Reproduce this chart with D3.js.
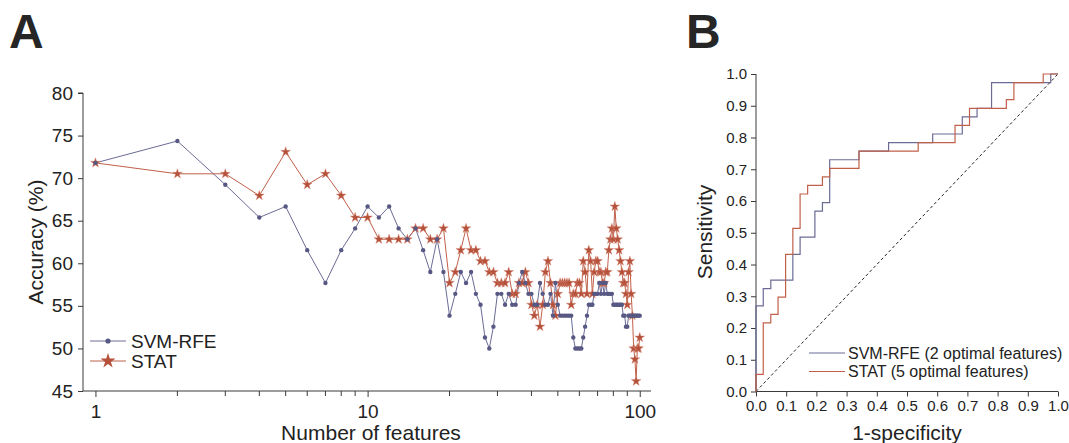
<!DOCTYPE html>
<html>
<head>
<meta charset="utf-8">
<script src="https://cdn.jsdelivr.net/npm/d3@7/dist/d3.min.js"></script>
<style>
  html, body { margin: 0; padding: 0; background: #fff; }
  svg { display: block; font-family: "Liberation Sans", Arial, sans-serif; }
</style>
</head>
<body>
<svg id="chart" width="1069" height="443"></svg>
<script>
// ---- Panel A: accuracy vs. number of features (1..100) ----
const featureCounts = d3.range(1, 101);

const svmAccuracy = [
  71.79, 74.36, 69.23, 65.38, 66.67, 61.54, 57.69, 61.54, 64.10, 66.67,
  65.38, 66.67, 64.10, 62.82, 64.10, 61.54, 58.97, 62.82, 58.97, 53.85,
  56.41, 58.97, 57.69, 58.97, 56.41, 55.13, 51.28, 50.00, 52.56, 56.41,
  56.41, 55.13, 56.41, 55.13, 55.13, 57.69, 58.97, 57.69, 56.41, 56.41,
  55.13, 55.13, 57.69, 56.41, 55.13, 55.13, 56.41, 53.85, 57.69, 55.13,
  53.85, 53.85, 53.85, 53.85, 53.85, 53.85, 51.28, 50.00, 50.00, 50.00,
  50.00, 51.28, 52.56, 53.85, 55.13, 55.13, 55.13, 56.41, 56.41, 56.41,
  57.69, 56.41, 57.69, 56.41, 57.69, 56.41, 56.41, 56.41, 56.41, 55.13,
  55.13, 55.13, 55.13, 55.13, 55.13, 55.13, 53.85, 53.85, 52.56, 52.56,
  53.85, 53.85, 53.85, 53.85, 53.85, 53.85, 53.85, 53.85, 53.85, 53.85
];

const statAccuracy = [
  71.79, 70.51, 70.51, 67.95, 73.08, 69.23, 70.51, 67.95, 65.38, 65.38,
  62.82, 62.82, 62.82, 62.82, 64.10, 64.10, 62.82, 62.82, 64.10, 57.69,
  58.97, 61.54, 64.10, 61.54, 61.54, 60.26, 60.26, 58.97, 58.97, 57.69,
  57.69, 57.69, 58.97, 56.41, 56.41, 57.69, 57.69, 58.97, 57.69, 55.13,
  53.85, 55.13, 52.56, 55.13, 58.97, 60.26, 57.69, 55.13, 53.85, 56.41,
  57.69, 57.69, 57.69, 57.69, 57.69, 55.13, 56.41, 56.41, 57.69, 57.69,
  56.41, 60.26, 58.97, 56.41, 61.54, 60.26, 56.41, 58.97, 60.26, 60.26,
  58.97, 58.97, 57.69, 57.69, 58.97, 58.97, 61.54, 62.82, 64.10, 62.82,
  66.67, 64.10, 62.82, 61.54, 60.26, 58.97, 57.69, 57.69, 56.41, 55.13,
  58.97, 60.26, 56.41, 53.85, 50.00, 48.72, 46.15, 50.00, 50.00, 51.28
];

const accuracyTicks = [45, 50, 55, 60, 65, 70, 75, 80];
const featureTicks = [1, 10, 100];

// ---- Panel B: ROC curves (false positive rate, true positive rate) ----
const svmFpr = [0, 0, 0.024, 0.049, 0.122, 0.146, 0.195, 0.220, 0.244, 0.341, 0.439, 0.585, 0.683, 0.732, 0.780, 0.976, 1];
const svmTpr = [0, 0.270, 0.324, 0.351, 0.432, 0.486, 0.568, 0.595, 0.730, 0.757, 0.784, 0.811, 0.865, 0.892, 0.973, 1, 1];
const statFpr = [0, 0, 0.024, 0.049, 0.073, 0.098, 0.122, 0.146, 0.171, 0.220, 0.244, 0.341, 0.537, 0.659, 0.707, 0.829, 0.854, 0.951, 1];
const statTpr = [0, 0.054, 0.216, 0.243, 0.297, 0.432, 0.514, 0.622, 0.649, 0.676, 0.703, 0.757, 0.784, 0.838, 0.892, 0.919, 0.973, 1, 1];
const rocTicks = [0, 0.1, 0.2, 0.3, 0.4, 0.5, 0.6, 0.7, 0.8, 0.9, 1.0];

const seriesNames = ["SVM-RFE", "STAT"];
const rocLegend = ["SVM-RFE (2 optimal features)", "STAT (5 optimal features)"];

// ---- styling ----
const axisColor = "#3a3a3a";
const textColor = "#222";
const svmLine = "#6b6b96", svmMark = "#585884";
const statLine = "#c1604a", statMark = "#b5503a";

const svg = d3.select("#chart");

// ================= Panel A =================
const xA = d3.scaleLog().domain([0.9, 110]).range([83, 651]);
const yA = d3.scaleLinear().domain([45, 80]).range([391, 93]);

const gA = svg.append("g");

// y axis
const yAxisA = d3.axisLeft(yA).tickValues(accuracyTicks).tickSize(5).tickPadding(5).tickFormat(d3.format("d"));
const gyA = gA.append("g").attr("transform", `translate(${xA.range()[0]},0)`).call(yAxisA);
gyA.select(".domain").attr("d", `M-5,${yA(80)}H0V${yA(45)}`);

// x axis with minor ticks
const minorFeat = [];
for (let dec = 1; dec <= 10; dec *= 10) for (let k = 2; k <= 9; k++) minorFeat.push(k * dec);
const gxA = gA.append("g").attr("transform", `translate(0,${yA.range()[0]})`);
gxA.call(d3.axisBottom(xA).tickValues(featureTicks).tickSize(6).tickPadding(8).tickFormat(d3.format("d")));
gxA.select(".domain").attr("d", `M${xA.range()[0]},0H${xA.range()[1]}`);
gxA.selectAll(".minor").data(minorFeat).enter().append("line")
  .attr("x1", d => xA(d)).attr("x2", d => xA(d)).attr("y1", 0).attr("y2", 5);

[gyA, gxA].forEach(g => {
  g.selectAll("path, line").attr("stroke", axisColor).attr("stroke-width", 1);
  g.selectAll("text").attr("fill", textColor).style("font-size", "19px")
    .style("font-family", '"Liberation Sans", Arial, sans-serif');
});

// series lines
const lineA = (vals) => d3.line().x((d, i) => xA(featureCounts[i])).y(d => yA(d))(vals);
gA.append("path").attr("d", lineA(svmAccuracy)).attr("fill", "none").attr("stroke", svmLine).attr("stroke-width", 1);
gA.append("path").attr("d", lineA(statAccuracy)).attr("fill", "none").attr("stroke", statLine).attr("stroke-width", 1);

// markers
const star = d3.symbol().type(d3.symbolStar).size(30);
gA.append("g").selectAll("path").data(statAccuracy).enter().append("path")
  .attr("d", star).attr("transform", (d, i) => `translate(${xA(featureCounts[i])},${yA(d)})`)
  .attr("fill", statMark).attr("stroke", "#d9907e").attr("stroke-width", 0.4);
gA.append("g").selectAll("circle").data(svmAccuracy).enter().append("circle")
  .attr("cx", (d, i) => xA(featureCounts[i])).attr("cy", d => yA(d)).attr("r", 2.2)
  .attr("fill", svmMark);

// axis titles
gA.append("text").attr("transform", "translate(43,242) rotate(-90)").attr("text-anchor", "middle")
  .attr("fill", textColor).style("font-size", "21px").text("Accuracy (%)");
gA.append("text").attr("x", 371).attr("y", 440).attr("text-anchor", "middle")
  .attr("fill", textColor).style("font-size", "21px").text("Number of features");

// legend
const legA = gA.append("g").attr("transform", "translate(90,341)");
seriesNames.forEach((name, i) => {
  const row = legA.append("g").attr("transform", `translate(0,${i * 20})`);
  row.append("line").attr("x1", 0).attr("x2", 36).attr("stroke", i ? statLine : svmLine).attr("stroke-width", 1);
  if (i === 0) row.append("circle").attr("cx", 18).attr("r", 2.6).attr("fill", svmMark);
  else row.append("path").attr("d", d3.symbol().type(d3.symbolStar).size(70)).attr("transform", "translate(18,0)").attr("fill", statMark);
  row.append("text").attr("x", 41).attr("y", 6.5).attr("fill", textColor).style("font-size", "19px").text(name);
});

// panel letter
svg.append("text").attr("x", 9).attr("y", 48).attr("fill", "#262626")
  .style("font-size", "48px").style("font-weight", "bold").text("A");

// ================= Panel B =================
const xB = d3.scaleLinear().domain([0, 1]).range([756, 1058]);
const yB = d3.scaleLinear().domain([0, 1]).range([391.5, 74]);
const gB = svg.append("g");

const fmt1 = d3.format(".1f");
const gyB = gB.append("g").attr("transform", `translate(${xB(0)},0)`)
  .call(d3.axisLeft(yB).tickValues(rocTicks).tickSize(5).tickPadding(4).tickFormat(fmt1));
const gxB = gB.append("g").attr("transform", `translate(0,${yB(0)})`)
  .call(d3.axisBottom(xB).tickValues(rocTicks).tickSize(5).tickPadding(4).tickFormat(fmt1));
gyB.select(".domain").attr("d", `M0,${yB(1)}V${yB(0)}`);
gxB.select(".domain").attr("d", `M${xB(0)},0H${xB(1)}`);
[gyB, gxB].forEach(g => {
  g.selectAll("path, line").attr("stroke", axisColor).attr("stroke-width", 1);
  g.selectAll("text").attr("fill", textColor).style("font-size", "15px")
    .style("font-family", '"Liberation Sans", Arial, sans-serif');
});

// chance diagonal
gB.append("line").attr("x1", xB(0)).attr("y1", yB(0)).attr("x2", xB(1)).attr("y2", yB(1))
  .attr("stroke", "#222").attr("stroke-width", 1).attr("stroke-dasharray", "3,2.5");

const rocLine = (fpr, tpr) => d3.line().curve(d3.curveStepAfter)
  .x((d, i) => xB(fpr[i])).y((d, i) => yB(tpr[i]))(fpr);
gB.append("path").attr("d", rocLine(svmFpr, svmTpr)).attr("fill", "none").attr("stroke", svmLine).attr("stroke-width", 1.2);
gB.append("path").attr("d", rocLine(statFpr, statTpr)).attr("fill", "none").attr("stroke", statLine).attr("stroke-width", 1.2);

// axis titles
gB.append("text").attr("transform", "translate(712,232) rotate(-90)").attr("text-anchor", "middle")
  .attr("fill", textColor).style("font-size", "21px").text("Sensitivity");
gB.append("text").attr("x", 907).attr("y", 440).attr("text-anchor", "middle")
  .attr("fill", textColor).style("font-size", "21px").text("1-specificity");

// legend
const legB = gB.append("g").attr("transform", "translate(809,353)");
rocLegend.forEach((name, i) => {
  const row = legB.append("g").attr("transform", `translate(0,${i * 18.5})`);
  row.append("line").attr("x1", 0).attr("x2", 36).attr("stroke", i ? statLine : svmLine).attr("stroke-width", 1.2);
  row.append("text").attr("x", 39).attr("y", 5.5).attr("fill", textColor).style("font-size", "16px").text(name);
});

svg.append("text").attr("x", 686).attr("y", 48).attr("fill", "#262626")
  .style("font-size", "48px").style("font-weight", "bold").text("B");
</script>
</body>
</html>
